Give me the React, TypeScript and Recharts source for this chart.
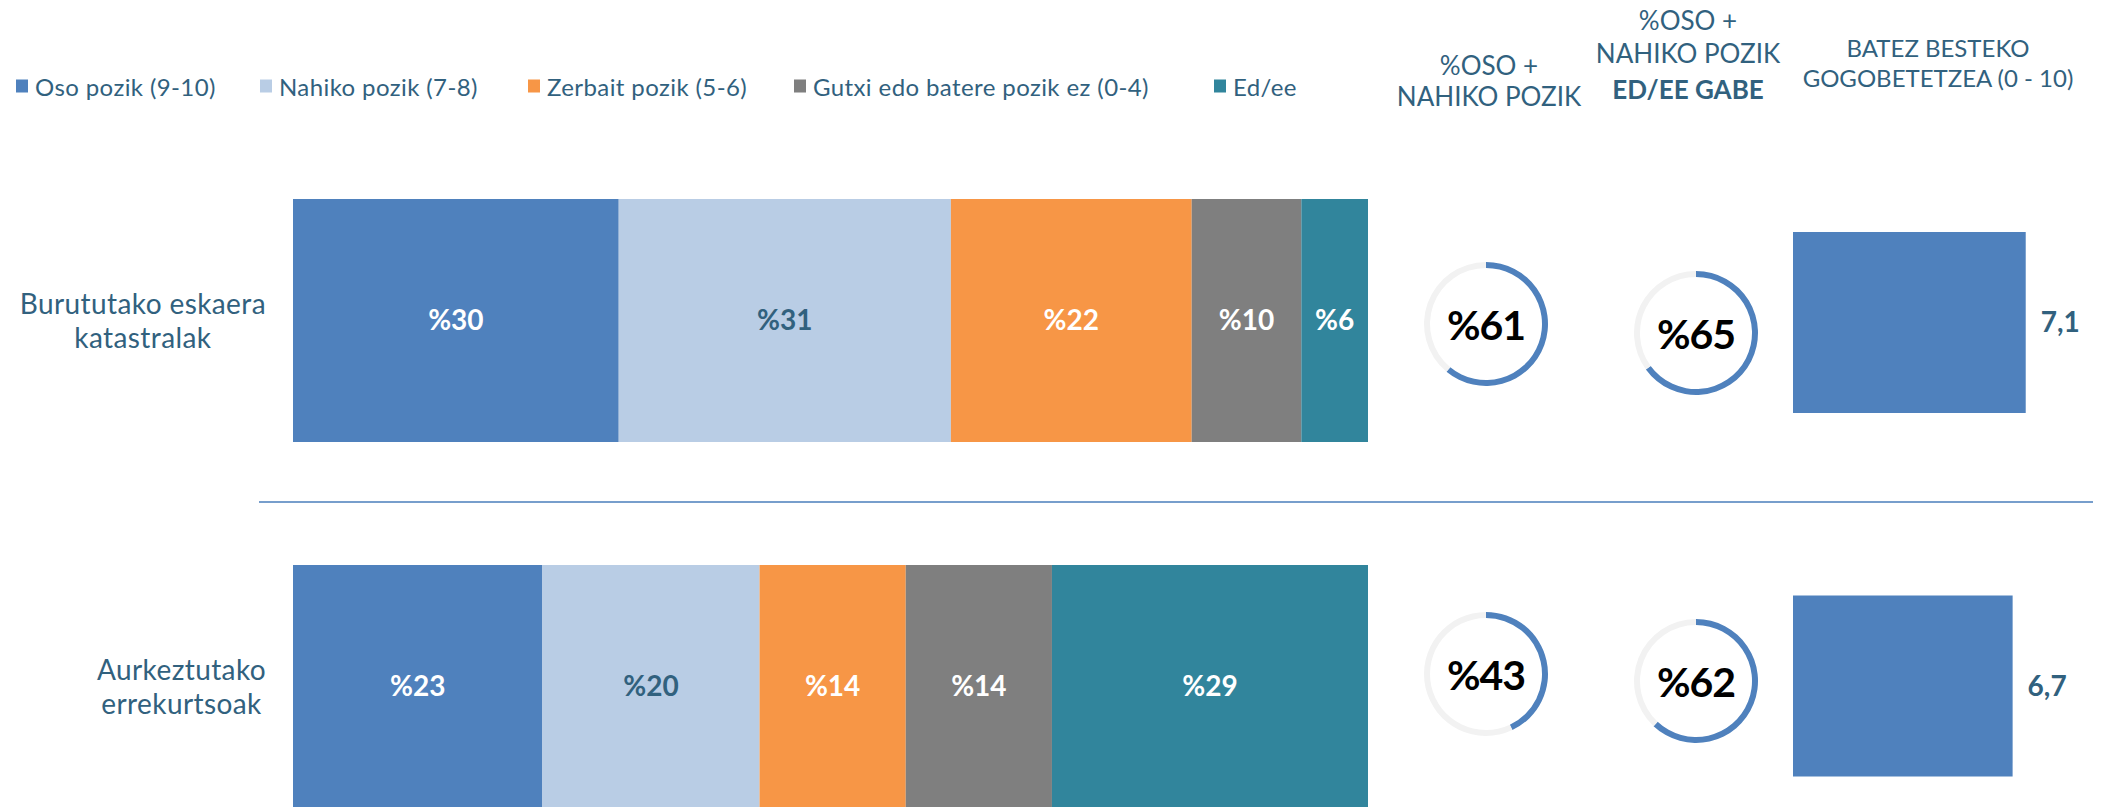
import { Bar, BarChart, Cell, LabelList, Pie, PieChart, XAxis, YAxis } from "recharts";

const categories = ["Burututako eskaera\nkatastralak", "Aurkeztutako\nerrekurtsoak"];
const seriesNames = ["Oso pozik (9-10)", "Nahiko pozik (7-8)", "Zerbait pozik (5-6)", "Gutxi edo batere pozik ez (0-4)", "Ed/ee"];
const osoPozik = [30.3, 23.2];
const nahikoPozik = [30.9, 20.2];
const zerbaitPozik = [22.4, 13.6];
const gutxiPozik = [10.2, 13.6];
const edEe = [6.2, 29.4];
const osoNahiko = [61, 43];
const osoNahikoGabe = [65, 62];
const batezBesteko = [7.1, 6.7];

const TEXT = "#31617e";
const FONT = "Lato, 'Open Sans', sans-serif";

const series = [
  { key: "oso", values: osoPozik, color: "#4f81bd", text: "#ffffff" },
  { key: "nahiko", values: nahikoPozik, color: "#b9cde5", text: TEXT },
  { key: "zerbait", values: zerbaitPozik, color: "#f79646", text: "#ffffff" },
  { key: "gutxi", values: gutxiPozik, color: "#7f7f7f", text: "#ffffff" },
  { key: "edee", values: edEe, color: "#31859c", text: "#ffffff" },
];

const rows = categories.map((name, i) => {
  const row: Record<string, string | number> = { name };
  series.forEach((s) => (row[s.key] = s.values[i]));
  return row;
});
const avgRows = categories.map((name, i) => ({ name, avg: batezBesteko[i] }));

// layout of the non-chart pieces
const legendX = [16, 260, 528, 794, 1214];
const donutCols = [1486, 1696];
const donutRowsY = [
  [324, 333],
  [674, 681],
];

function measure(text: string, font: string, spacing: number) {
  const ctx = document.createElement("canvas").getContext("2d");
  if (!ctx) return text.length * 13;
  ctx.font = font;
  return ctx.measureText(text).width + spacing * text.length;
}

function RowTick(props: any) {
  const { y, payload } = props;
  const lines: string[] = String(payload.value).split("\n");
  const maxW = Math.max(...lines.map((l) => measure(l, `28px Lato`, 0.4)));
  const cx = 266 - maxW / 2;
  const lh = 34;
  const y0 = y - ((lines.length - 1) * lh) / 2;
  return (
    <g>
      {lines.map((l, i) => (
        <text key={i} x={cx} y={y0 + i * lh} textAnchor="middle" dominantBaseline="central" fill={TEXT} fontSize={28} letterSpacing={0.4} fontFamily={FONT}>
          {l}
        </text>
      ))}
    </g>
  );
}

function Donut({ value, cx, cy }: { value: number; cx: number; cy: number }) {
  const data = [{ v: value }, { v: 100 - value }];
  return (
    <div style={{ position: "absolute", left: cx - 70, top: cy - 70, width: 140, height: 140 }}>
      <PieChart width={140} height={140} margin={{ top: 0, right: 0, bottom: 0, left: 0 }}>
        <Pie data={data} dataKey="v" cx={70} cy={70} innerRadius={56} outerRadius={62} startAngle={90} endAngle={-270} stroke="none" isAnimationActive={false}>
          <Cell fill="#4f81bd" />
          <Cell fill="#f2f2f2" />
        </Pie>
      </PieChart>
      <div style={{ position: "absolute", inset: 0, display: "flex", alignItems: "center", justifyContent: "center", fontFamily: FONT, fontWeight: 700, fontSize: 41, color: "#000", letterSpacing: -1 }}>
        %{value}
      </div>
    </div>
  );
}

function HeaderLine({ x, y, text, bold, size = 26 }: { x: number; y: number; text: string; bold?: boolean; size?: number }) {
  return (
    <div style={{ position: "absolute", left: x, top: y, transform: "translate(-50%, -50%)", whiteSpace: "nowrap", fontFamily: FONT, fontSize: size, fontWeight: bold ? 700 : 400, color: TEXT }}>
      {text}
    </div>
  );
}

export default function App() {
  return (
    <div style={{ position: "absolute", left: 0, top: 0, width: 2105, height: 807, overflow: "hidden", background: "#fff", fontFamily: FONT }}>
      {/* legend */}
      {seriesNames.map((n, i) => (
        <div key={n} style={{ position: "absolute", left: legendX[i], top: 86, transform: "translateY(-50%)", display: "flex", alignItems: "center", whiteSpace: "nowrap" }}>
          <span style={{ display: "inline-block", width: 12, height: 13, background: series[i].color, marginRight: 7 }} />
          <span style={{ fontSize: 24, letterSpacing: 0.4, color: TEXT }}>{n}</span>
        </div>
      ))}

      {/* column headers */}
      <HeaderLine x={1489} y={65} text="%OSO +" />
      <HeaderLine x={1489} y={96} text="NAHIKO POZIK" />
      <HeaderLine x={1688} y={20} text="%OSO +" />
      <HeaderLine x={1688} y={53} text="NAHIKO POZIK" />
      <HeaderLine x={1688} y={89} text="ED/EE GABE" bold />
      <HeaderLine x={1938} y={47} text="BATEZ BESTEKO" size={24} />
      <HeaderLine x={1938} y={77} text="GOGOBETETZEA (0 - 10)" size={24} />

      {/* separator */}
      <svg style={{ position: "absolute", left: 0, top: 0 }} width={2105} height={807}>
        <line x1={259} x2={2093} y1={502} y2={502} stroke="#4a7ebb" strokeWidth={1.5} />
      </svg>

      {/* stacked bars */}
      <div style={{ position: "absolute", left: 0, top: 137 }}>
        <BarChart width={1368} height={732} data={rows} layout="vertical" margin={{ top: 0, right: 0, bottom: 0, left: 0 }} barCategoryGap={0}>
          <XAxis type="number" domain={[0, 100]} hide />
          <YAxis type="category" dataKey="name" width={293} axisLine={false} tickLine={false} tick={<RowTick />} />
          {series.map((s) => (
            <Bar key={s.key} dataKey={s.key} stackId="a" fill={s.color} barSize={243} isAnimationActive={false}>
              <LabelList
                dataKey={s.key}
                position="center"
                formatter={(v: any) => "%" + Math.round(Number(v))}
                fill={s.text}
                fontSize={28}
                fontWeight={700}
                fontFamily={FONT}
              />
            </Bar>
          ))}
        </BarChart>
      </div>

      {/* donuts */}
      {categories.map((c, r) => (
        <div key={c}>
          <Donut value={osoNahiko[r]} cx={donutCols[0]} cy={donutRowsY[r][0]} />
          <Donut value={osoNahikoGabe[r]} cx={donutCols[1]} cy={donutRowsY[r][1]} />
        </div>
      ))}

      {/* average bars */}
      <div style={{ position: "absolute", left: 1700, top: 141 }}>
        <BarChart width={405} height={727} data={avgRows} layout="vertical" margin={{ top: 0, right: 17, bottom: 0, left: 93 }} barCategoryGap={0}>
          <XAxis type="number" domain={[0, 9]} hide />
          <YAxis type="category" dataKey="name" hide />
          <Bar dataKey="avg" fill="#4f81bd" barSize={181} isAnimationActive={false}>
            <LabelList
              dataKey="avg"
              position="right"
              offset={15}
              formatter={(v: any) => Number(v).toFixed(1).replace(".", ",")}
              fill={TEXT}
              fontSize={28}
              fontWeight={700}
              fontFamily={FONT}
            />
          </Bar>
        </BarChart>
      </div>
    </div>
  );
}
